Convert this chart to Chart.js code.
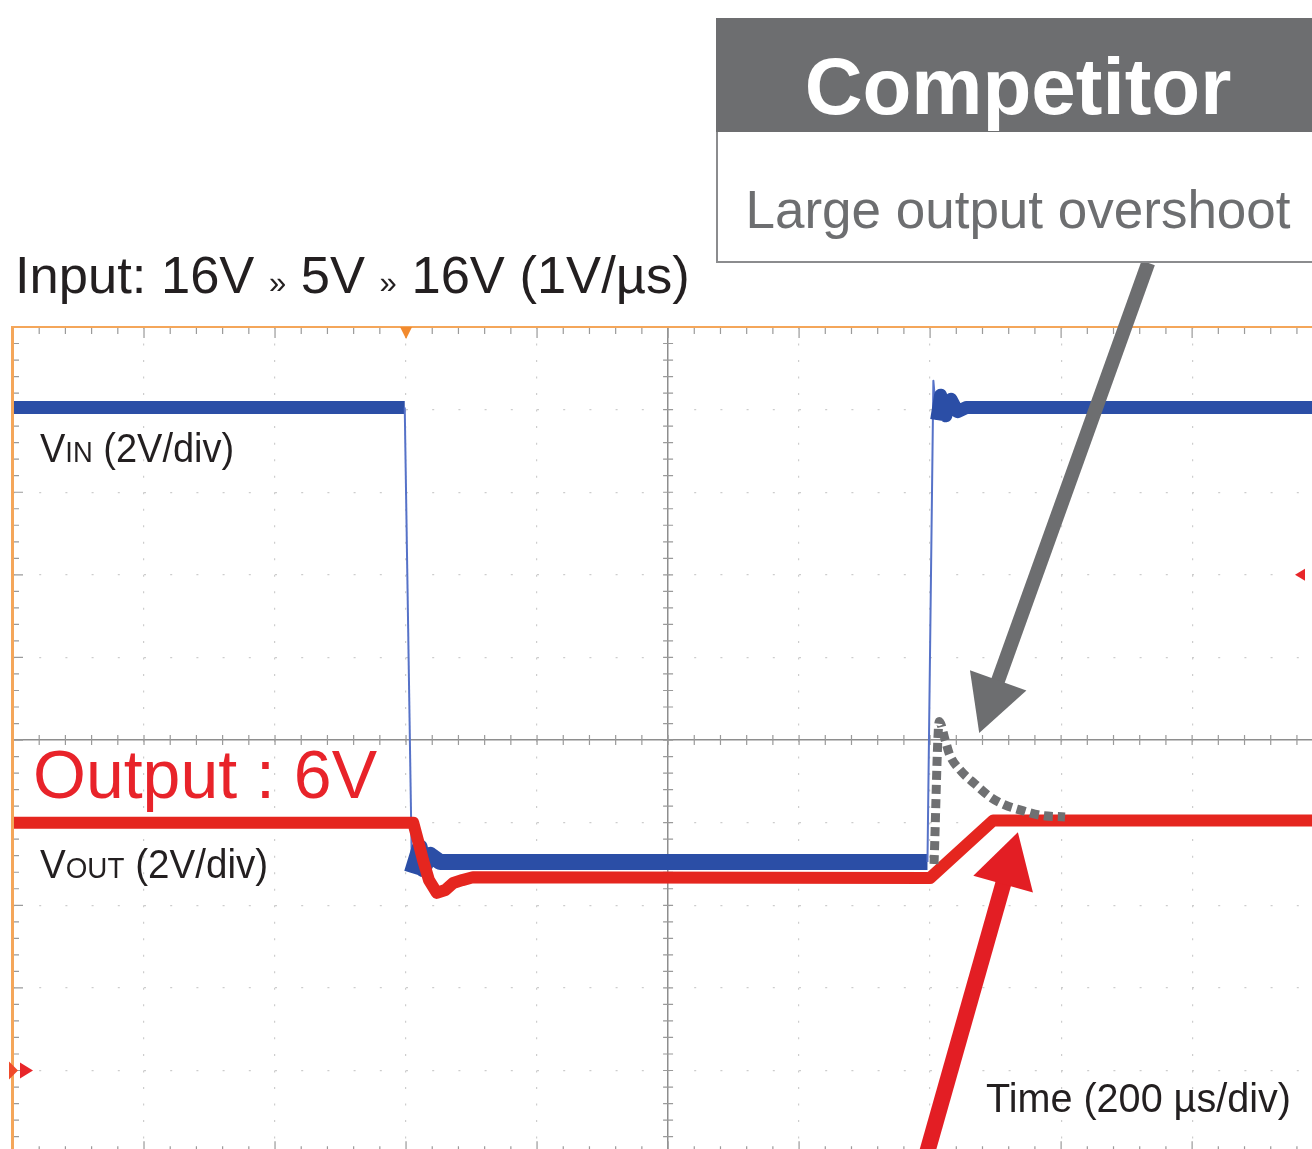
<!DOCTYPE html>
<html>
<head>
<meta charset="utf-8">
<title>VIN / VOUT transient</title>
<script src="https://cdn.jsdelivr.net/npm/chart.js@4.4.1/dist/chart.umd.min.js"></script>
<style>
html, body { margin: 0; padding: 0; background: #fff; overflow: hidden; }
#wrap { position: relative; width: 1312px; height: 1149px; overflow: hidden;
        font-family: "Liberation Sans", Arial, Helvetica, sans-serif; }
#scope { position: absolute; left: 0; top: 0; }
.txt { position: absolute; white-space: nowrap; line-height: 1; }
.note { left: 15px; top: 249px; font-size: 52.5px; color: #231f20; }
.note .sep { font-size: 31px; }
.lbl { font-size: 40px; color: #231f20; transform-origin: 0 0; }
.lbl .sc { font-size: 0.72em; }
#vinLabel { left: 40px; top: 428px; transform: scaleX(0.95); }
#voutLabel { left: 40px; top: 844px; transform: scaleX(0.965); }
#timeLabel { left: 986px; top: 1078px; font-size: 41px; transform: scaleX(0.965); }
#outLabel { left: 33px; top: 740px; font-size: 68px; color: #e8232a; }
.callout { position: absolute; left: 716px; top: 18px; width: 604px; height: 245px; }
.callout .head { position: absolute; left: 0; top: 0; width: 100%; height: 114px; background: #6d6e70; }
.callout .body { position: absolute; left: 0; top: 114px; width: 100%; height: 131px; box-sizing: border-box;
                 border: 2px solid #8b8c8e; border-top: none; background: #fff; }
.callout .txt { left: 0; width: 100%; text-align: center; }
.callout .title { top: 29px; font-size: 80px; font-weight: bold; color: #fff; }
.callout .sub { top: 165px; font-size: 53px; color: #6d6e70; }
</style>
</head>
<body>
<div id="wrap">
  <canvas id="scope" width="1312" height="1149"></canvas>
  <div class="txt note">Input: 16V <span class="sep">»</span> 5V <span class="sep">»</span> 16V (1V/µs)</div>
  <div class="callout">
    <div class="head"></div>
    <div class="body"></div>
    <div class="txt title">Competitor</div>
    <div class="txt sub">Large output overshoot</div>
  </div>
  <div class="txt lbl" id="vinLabel">V<span class="sc">IN</span> (2V/div)</div>
  <div class="txt" id="outLabel">Output : 6V</div>
  <div class="txt lbl" id="voutLabel">V<span class="sc">OUT</span> (2V/div)</div>
  <div class="txt lbl" id="timeLabel">Time (200 µs/div)</div>
</div>
<script>
// time in µs (200 µs/div, 0 = screen centre), voltage in V (2 V/div, both channels share ground)
const timeDivisions = [-1000, -800, -600, -400, -200, 0, 200, 400, 600, 800];
const voltDivisions = [0, 2, 4, 6, 8, 10, 12, 14, 16, 18];
const timeMin = -1000, timeMax = 983;
const voltMin = -1.9, voltMax = 18;
const timeMinorStep = 40, voltMinorStep = 0.4;

// VIN trace (blue)
const vinTime  = [-1000, -402, -391, -379, -374, -363, -348, 396, 405, 410, 416, 424, 432, 442, 455, 983];
const vinVolts = [16.05, 16.05, 4.78, 5.40, 4.88, 5.22, 5.05, 5.05, 16.7, 15.75, 16.35, 15.85, 16.25, 15.95, 16.05, 16.05];

// VOUT trace (red)
const voutTime  = [-1000, -389, -382, -374, -365, -353, -340, -328, -314, -298, 400, 496, 983];
const voutVolts = [6.0, 6.0, 5.58, 5.09, 4.61, 4.30, 4.37, 4.54, 4.61, 4.68, 4.66, 6.05, 6.05];

// competitor VOUT sketch (grey dotted)
const rivalTime  = [406, 414, 423, 430, 446, 469, 492, 514, 537, 568, 606];
const rivalVolts = [5.0, 8.45, 8.0, 7.64, 7.27, 6.93, 6.62, 6.43, 6.31, 6.18, 6.14];

// callout arrows, [time, volt] tail -> tip
const arrowGrey = { from: [733, 19.55], to: [475, 8.17], color: '#6d6e70', width: 14, head: 56, half: 30 };
const arrowRed  = { from: [376, -3.07], to: [534, 5.77], color: '#e31e24', width: 16, head: 54, half: 31 };

const toPoints = (xs, ys) => xs.map((t, i) => ({ x: t, y: ys[i] }));
const steep = c => Math.abs(c.p1.y - c.p0.y) > 32;

function drawArrow(ctx, x1, y1, x2, y2, a) {
  const dx = x2 - x1, dy = y2 - y1, len = Math.hypot(dx, dy);
  const ux = dx / len, uy = dy / len;
  const bx = x2 - ux * a.head, by = y2 - uy * a.head;
  ctx.strokeStyle = a.color;
  ctx.lineWidth = a.width;
  ctx.lineCap = 'butt';
  ctx.beginPath();
  ctx.moveTo(x1, y1);
  ctx.lineTo(bx + ux * 2, by + uy * 2);
  ctx.stroke();
  ctx.fillStyle = a.color;
  ctx.beginPath();
  ctx.moveTo(x2, y2);
  ctx.lineTo(bx - uy * a.half, by + ux * a.half);
  ctx.lineTo(bx + uy * a.half, by - ux * a.half);
  ctx.closePath();
  ctx.fill();
}

function tri(ctx, pts, color) {
  ctx.fillStyle = color;
  ctx.beginPath();
  ctx.moveTo(pts[0], pts[1]);
  ctx.lineTo(pts[2], pts[3]);
  ctx.lineTo(pts[4], pts[5]);
  ctx.closePath();
  ctx.fill();
}

// scope graticule ticks, frame and channel markers
const scopeFrame = {
  id: 'scopeFrame',
  beforeDatasetsDraw(chart) {
    const { ctx, chartArea: a, scales: { x, y } } = chart;
    const xc = x.getPixelForValue(0), yc = y.getPixelForValue(8);
    const yb = y.getPixelForValue(-2);
    ctx.save();
    ctx.strokeStyle = '#9a9a9a';
    ctx.lineWidth = 1.2;
    ctx.beginPath();
    for (let k = 0; k <= 50; k++) {
      const t = timeMin + k * timeMinorStep;
      const px = x.getPixelForValue(t);
      const major = k % 5 === 0;
      ctx.moveTo(px, yc - 5); ctx.lineTo(px, yc + 5);
      ctx.moveTo(px, a.top); ctx.lineTo(px, a.top + (major ? 11 : 7));
      ctx.moveTo(px, yb); ctx.lineTo(px, yb - (major ? 12 : 7));
    }
    for (let k = 0; k <= 50; k++) {
      const v = -2 + k * voltMinorStep;
      const py = y.getPixelForValue(v);
      const major = k % 5 === 0;
      ctx.moveTo(xc - 5, py); ctx.lineTo(xc + 5, py);
      ctx.moveTo(a.left, py); ctx.lineTo(a.left + (major ? 10 : 6), py);
    }
    ctx.stroke();
    ctx.restore();
  },
  afterDatasetsDraw(chart) {
    const { ctx, chartArea: a, scales: { x, y } } = chart;
    ctx.save();
    ctx.fillStyle = '#f4a65a';
    ctx.fillRect(a.left - 2, a.top - 1, a.right - a.left + 2, 2);
    ctx.fillRect(a.left - 2, a.top - 1, 3, a.bottom - a.top + 1);
    const tx = x.getPixelForValue(-400);
    tri(ctx, [tx - 6, a.top, tx + 6, a.top, tx, a.top + 12], '#f28a2e');
    const g = y.getPixelForValue(0);
    tri(ctx, [a.left - 4, g - 9, a.left - 4, g + 9, a.left + 5, g], '#f04a2a');
    tri(ctx, [a.left + 7, g - 8, a.left + 7, g + 8, a.left + 20, g], '#e8262a');
    const r = y.getPixelForValue(12);
    tri(ctx, [a.right - 17, r, a.right - 7, r - 6, a.right - 7, r + 6], '#e8262a');
    ctx.restore();
  }
};

const calloutArrows = {
  id: 'calloutArrows',
  afterDatasetsDraw(chart) {
    const { ctx, scales: { x, y } } = chart;
    ctx.save();
    [arrowGrey, arrowRed].forEach(a => {
      drawArrow(ctx,
        x.getPixelForValue(a.from[0]), y.getPixelForValue(a.from[1]),
        x.getPixelForValue(a.to[0]), y.getPixelForValue(a.to[1]), a);
    });
    ctx.restore();
  }
};

const ctx = document.getElementById('scope').getContext('2d');
const chart = new Chart(ctx, {
  type: 'line',
  data: {
    datasets: [
      {
        label: 'Competitor',
        data: toPoints(rivalTime, rivalVolts),
        borderColor: '#6f7072',
        borderWidth: 9,
        borderDash: [9, 5],
        borderCapStyle: 'butt',
        cubicInterpolationMode: 'monotone',
        pointRadius: 0,
        order: 0
      },
      {
        label: 'VOUT',
        data: toPoints(voutTime, voutVolts),
        borderColor: '#e5261f',
        borderWidth: 12,
        borderJoinStyle: 'round',
        borderCapStyle: 'round',
        pointRadius: 0,
        order: 1
      },
      {
        label: 'VIN',
        data: toPoints(vinTime, vinVolts),
        borderColor: '#2b4ea6',
        borderWidth: 13,
        borderJoinStyle: 'round',
        pointRadius: 0,
        order: 2,
        segment: {
          borderWidth: c => steep(c) ? 2 : (c.p0.parsed.y < 10 ? 16 : 13),
          borderColor: c => steep(c) ? '#5672c8' : '#2b4ea6'
        }
      }
    ]
  },
  options: {
    responsive: false,
    animation: false,
    devicePixelRatio: 1,
    layout: { padding: { left: 13, top: 327, right: 0, bottom: 0 } },
    plugins: { legend: { display: false }, tooltip: { enabled: false } },
    scales: {
      x: {
        type: 'linear',
        min: timeMin,
        max: timeMax,
        afterBuildTicks: s => { s.ticks = timeDivisions.map(v => ({ value: v })); },
        ticks: { display: false },
        grid: {
          drawTicks: false,
          color: c => c.tick.value === 0 ? '#8e8e8e' : (c.tick.value === timeMin ? 'rgba(0,0,0,0)' : '#cdcdcd'),
          lineWidth: c => c.tick.value === 0 ? 1.5 : 1.2
        },
        border: { display: false, dash: c => (c.tick && c.tick.value === 0) ? [] : [2, 14.52] }
      },
      y: {
        type: 'linear',
        min: voltMin,
        max: voltMax,
        afterBuildTicks: s => { s.ticks = voltDivisions.map(v => ({ value: v })); },
        ticks: { display: false },
        grid: {
          drawTicks: false,
          color: c => c.tick.value === 8 ? '#8e8e8e' : (c.tick.value === voltMax ? 'rgba(0,0,0,0)' : '#cdcdcd'),
          lineWidth: c => c.tick.value === 8 ? 1.5 : 1.2
        },
        border: { display: false, dash: c => (c.tick && c.tick.value === 8) ? [] : [2, 24.2] }
      }
    }
  },
  plugins: [scopeFrame, calloutArrows]
});
</script>
</body>
</html>
